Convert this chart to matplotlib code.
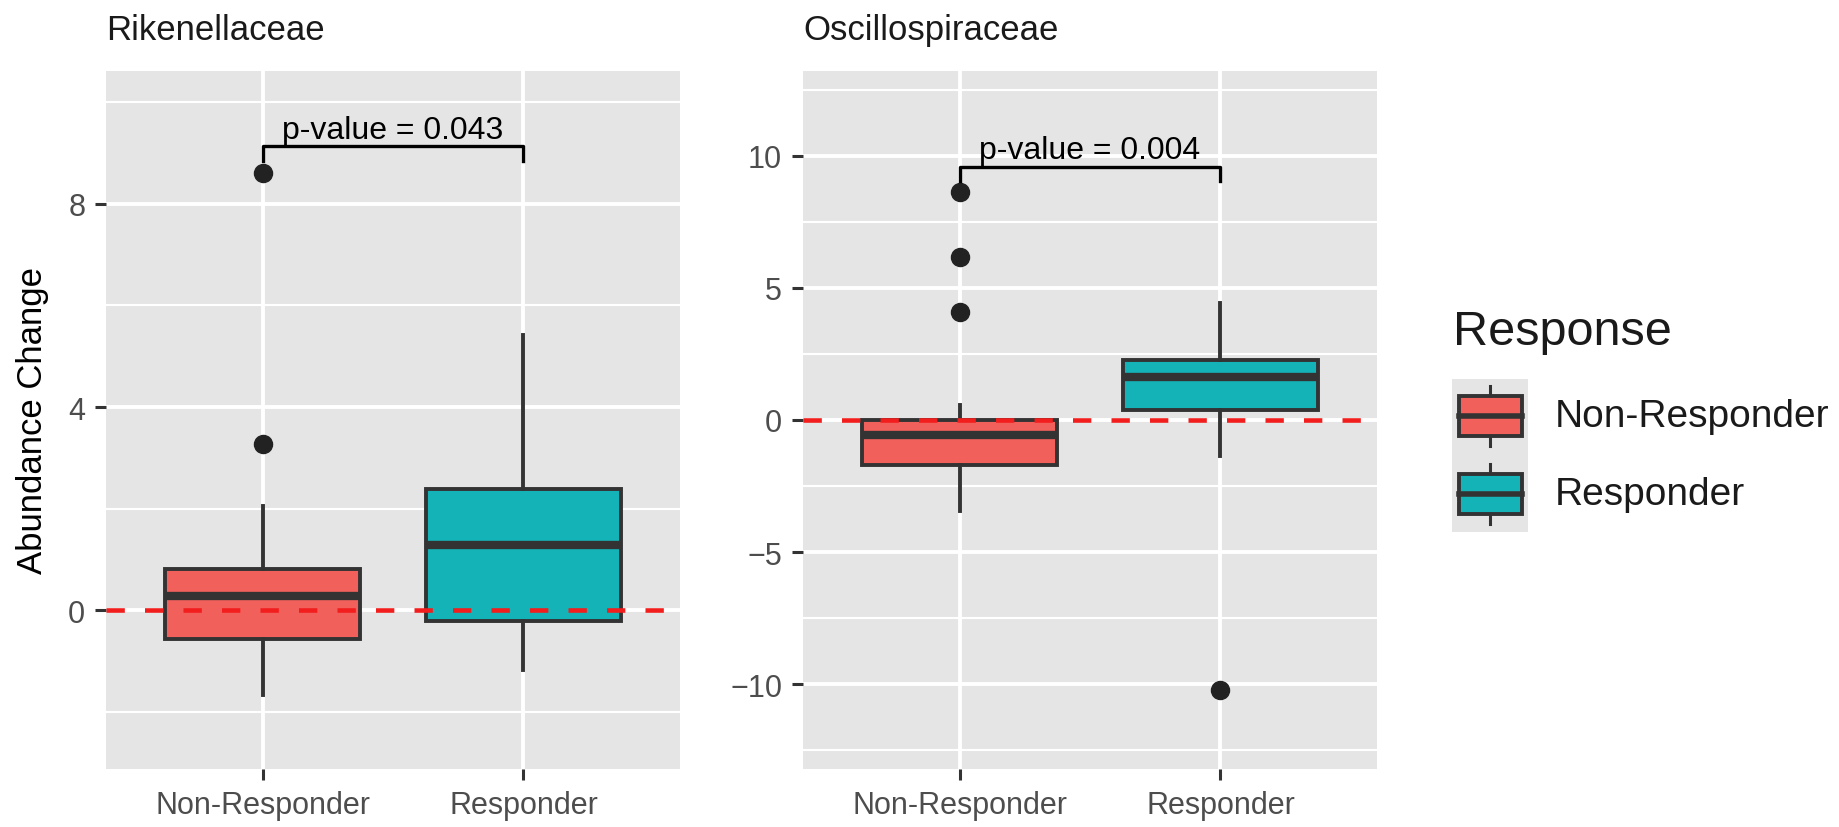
import matplotlib.pyplot as plt
from matplotlib.patches import Rectangle

plt.rcParams['font.family'] = ['Liberation Sans', 'DejaVu Sans']

groups = ['Non-Responder', 'Responder']
fills = ['#F2605B', '#14B3B8']

# Rikenellaceae
rik_low = [-1.67, -1.17]
rik_q1 = [-0.56, -0.21]
rik_med = [0.29, 1.28]
rik_q3 = [0.81, 2.38]
rik_high = [2.06, 5.42]
rik_out = [[3.28, 8.6], []]
rik_ticks = [0, 4, 8]
rik_minor = [-2, 2, 6, 10]
rik_lim = (-3.12, 10.61)
rik_bracket = (9.13, 8.83)
rik_p = 'p-value = 0.043'

# Oscillospiraceae
osc_low = [-3.46, -1.36]
osc_q1 = [-1.70, 0.38]
osc_med = [-0.56, 1.62]
osc_q3 = [0.0, 2.28]
osc_high = [0.58, 4.44]
osc_out = [[8.64, 6.18, 4.1], [-10.22]]
osc_ticks = [-10, -5, 0, 5, 10]
osc_minor = [-12.5, -7.5, -2.5, 2.5, 7.5, 12.5]
osc_lim = (-13.2, 13.2)
osc_bracket = (9.58, 9.04)
osc_p = 'p-value = 0.004'

W, H = 1839, 828
fig = plt.figure(figsize=(W / 100, H / 100), dpi=100)

dark = '#333333'


def panel(left, title, low, q1, med, q3, high, out, ticks, minor, lim, bracket, ptext):
    ax = fig.add_axes([left / W, 1 - 770 / H, 574 / W, 698 / H])
    ax.set_facecolor('#E5E5E5')
    for s in ax.spines.values():
        s.set_visible(False)
    ax.set_axisbelow(True)
    for m in minor:
        ax.axhline(m, color='white', lw=1.5, zorder=0)
    ax.grid(True, color='white', lw=2.8)

    stats = []
    for i in range(len(groups)):
        stats.append(dict(whislo=low[i], q1=q1[i], med=med[i], q3=q3[i],
                          whishi=high[i], fliers=out[i], label=groups[i]))
    bp = ax.bxp(stats, positions=[1, 2], widths=0.75, patch_artist=True,
                showcaps=False,
                boxprops=dict(edgecolor=dark, linewidth=2.8),
                whiskerprops=dict(color=dark, linewidth=2.8),
                medianprops=dict(color=dark, linewidth=6),
                flierprops=dict(marker='o', markersize=13, markerfacecolor='#222222',
                                markeredgecolor='#222222'))
    for box, c in zip(bp['boxes'], fills):
        box.set_facecolor(c)

    ax.axhline(0, color='#F21D1D', lw=3.3, ls=(0, (4, 4.4)), zorder=6)

    top, leg = bracket
    ax.plot([1, 1, 2, 2], [leg, top, top, leg], color='black', lw=2.4, zorder=7)
    ax.annotate(ptext, (1.5, top), xytext=(0, 6), textcoords='offset points',
                ha='center', va='baseline', fontsize=23, color='black')

    ax.set_xlim(0.4, 2.6)
    ax.set_ylim(*lim)
    ax.set_xticks([1, 2])
    ax.set_xticklabels(groups)
    ax.set_yticks(ticks)
    ax.tick_params(labelsize=22, labelcolor='#4D4D4D', color=dark,
                   length=8, width=2.2, pad=7)
    fig.text(left / W, 1 - 40 / H, title, fontsize=25, color='#1A1A1A',
             ha='left', va='baseline')
    return ax


panel(106, 'Rikenellaceae', rik_low, rik_q1, rik_med, rik_q3, rik_high, rik_out,
      rik_ticks, rik_minor, rik_lim, rik_bracket, rik_p)
panel(803, 'Oscillospiraceae', osc_low, osc_q1, osc_med, osc_q3, osc_high, osc_out,
      osc_ticks, osc_minor, osc_lim, osc_bracket, osc_p)

fig.text(33 / W, 1 - 421 / H, 'Abundance Change', rotation=90, fontsize=25,
         ha='center', va='center', color='black')

# legend
fig.text(1453 / W, 1 - 333 / H, 'Response', fontsize=35, ha='left', va='center',
         color='#1A1A1A')
lax = fig.add_axes([1452 / W, 1 - 533 / H, 76 / W, 153 / H])
lax.set_xlim(0, 76)
lax.set_ylim(153, 0)
lax.axis('off')
lax.add_patch(Rectangle((0, 0), 76, 153, color='#E5E5E5', zorder=0))
key_mid = [37, 115]
for y, c, name in zip(key_mid, fills, groups):
    lax.plot([38, 38], [y - 30, y + 30], color=dark, lw=2.2, zorder=1)
    lax.add_patch(Rectangle((7, y - 20), 63, 40, facecolor=c, edgecolor=dark,
                            lw=2.8, zorder=2))
    lax.plot([7, 70], [y, y], color=dark, lw=4, zorder=3)
    fig.text(1555 / W, 1 - (y + 380) / H, name, fontsize=28, ha='left', va='center',
             color='#1A1A1A')

fig.savefig('out.png', dpi=100)
